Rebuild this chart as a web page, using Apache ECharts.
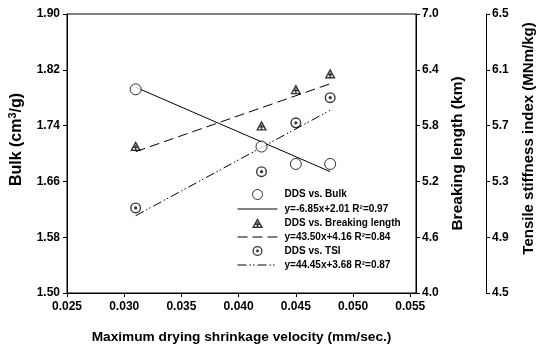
<!DOCTYPE html>
<html>
<head>
<meta charset="utf-8">
<script src="https://cdn.jsdelivr.net/npm/echarts@6/dist/echarts.min.js"></script>
<style>
  html, body { margin: 0; padding: 0; background: #fff; }
  #main { width: 536px; height: 350px; }
</style>
</head>
<body>
<div id="main"></div>
<script>
// measured points
var xVals = [0.031, 0.042, 0.045, 0.048];
var bulk = [1.792, 1.710, 1.685, 1.685];
var breaking = [5.58, 5.80, 6.19, 6.36];
var tsi = [5.11, 5.37, 5.72, 5.90];

// regression line end points
var fitX = [0.031, 0.048];
var bulkFit = [1.795, 1.674];
var breakFit = [5.52, 6.25];
var tsiFit = [5.054, 5.81];

var xTicks = [0.025, 0.030, 0.035, 0.040, 0.045, 0.050, 0.055];
var names = ['DDS vs. Bulk', 'y=-6.85x+2.01 R\u00b2=0.97',
  'DDS vs. Breaking length', 'y=43.50x+4.16 R\u00b2=0.84',
  'DDS vs. TSI', 'y=44.45x+3.68 R\u00b2=0.87'];

function pairs(xs, ys) {
  return xs.map(function (x, i) { return [x, ys[i]]; });
}

// triangle outline with a cross inside
var triPath = 'path://M5,0 L10,9 L0,9 Z M5,2.6 L2.1,7.7 L7.9,7.7 Z M4.35,3.8 L5.65,3.8 L5.65,7.7 L4.35,7.7 Z M3.1,5.0 L6.9,5.0 L6.9,6.3 L3.1,6.3 Z';
// ring with a dot in the middle
var dotPath = 'path://M0,-5.5 A5.5,5.5 0 1,1 0,5.5 A5.5,5.5 0 1,1 0,-5.5 Z M0,-4.1 A4.1,4.1 0 1,0 0,4.1 A4.1,4.1 0 1,0 0,-4.1 Z M0,-1.6 A1.6,1.6 0 1,1 0,1.6 A1.6,1.6 0 1,1 0,-1.6 Z';

var font = 'Liberation Sans';
var chart = echarts.init(document.getElementById('main'));

function nameStyle(size, extra) {
  return Object.assign({ fontFamily: font, fontWeight: 'bold', fontSize: size, color: '#000' }, extra || {});
}
var tickStyle = { fontFamily: font, fontWeight: 'bold', fontSize: 12, color: '#000' };
var thinLine = { width: 1 };

var option = {
  animation: false,
  textStyle: { fontFamily: font },
  grid: {
    left: 67, right: 120, top: 14, bottom: 57,
    outerBoundsMode: 'none',
    show: true, borderColor: '#000', borderWidth: 1
  },
  legend: {
    orient: 'vertical',
    left: 232, top: 184,
    itemWidth: 40, itemHeight: 10, itemGap: 4,
    textStyle: { fontFamily: font, fontWeight: 'bold', fontSize: 10, color: '#000', padding: [0, 0, 0, 2] },
    data: [
      { name: names[0], itemStyle: { borderWidth: 1 } },
      { name: names[1], itemStyle: { opacity: 0 }, lineStyle: thinLine },
      { name: names[2] },
      { name: names[3], itemStyle: { opacity: 0 }, lineStyle: thinLine },
      { name: names[4] },
      { name: names[5], itemStyle: { opacity: 0 }, lineStyle: thinLine }
    ]
  },
  xAxis: {
    type: 'value',
    min: 0.025, max: 0.0555,
    name: 'Maximum drying shrinkage velocity (mm/sec.)',
    nameLocation: 'middle', nameGap: 37, nameTextStyle: nameStyle(13.7),
    axisLine: { lineStyle: { color: '#000' } },
    axisTick: { lineStyle: { color: '#000' }, length: 4, customValues: xTicks },
    splitLine: { show: false },
    axisLabel: Object.assign({
      margin: 8, customValues: xTicks,
      formatter: function (v) { return v.toFixed(3); }
    }, tickStyle)
  },
  yAxis: [{
    type: 'value', position: 'left',
    min: 1.50, max: 1.90, interval: 0.08,
    name: 'Bulk (cm{sup|3}/g)', nameLocation: 'middle', nameGap: 41, nameRotate: 90,
    nameTextStyle: nameStyle(16, {
      padding: [0, 0, 0, 28],
      rich: { sup: { fontFamily: font, fontWeight: 'bold', fontSize: 11, color: '#000', padding: [0, 0, 8, 0] } }
    }),
    axisLine: { show: true, lineStyle: { color: '#000' } },
    axisTick: { show: true, lineStyle: { color: '#000' }, length: 4 },
    splitLine: { show: false },
    axisLabel: Object.assign({
      margin: 7,
      formatter: function (v) { return v.toFixed(2); }
    }, tickStyle)
  }, {
    type: 'value', position: 'right',
    min: 4.0, max: 7.0, interval: 0.6,
    name: 'Breaking length (km)', nameLocation: 'middle', nameGap: 34, nameRotate: 90,
    nameTextStyle: nameStyle(15.5),
    axisLine: { show: true, lineStyle: { color: '#000' } },
    axisTick: { show: true, lineStyle: { color: '#000' }, length: 4 },
    splitLine: { show: false },
    axisLabel: Object.assign({
      margin: 6,
      formatter: function (v) { return v.toFixed(1); }
    }, tickStyle)
  }, {
    type: 'value', position: 'right', offset: 70,
    min: 4.5, max: 6.5, interval: 0.4,
    name: 'Tensile stiffness index (MNm/kg)', nameLocation: 'middle', nameGap: 35, nameRotate: 90,
    nameTextStyle: nameStyle(15, { padding: [0, 0, 0, 30] }),
    axisLine: { show: true, lineStyle: { color: '#000' } },
    axisTick: { show: true, lineStyle: { color: '#000' }, length: 4 },
    splitLine: { show: false },
    axisLabel: Object.assign({
      margin: 6,
      formatter: function (v) { return v.toFixed(1); }
    }, tickStyle)
  }],
  series: [{
    name: names[0], type: 'scatter', yAxisIndex: 0,
    symbol: 'circle', symbolSize: 11,
    itemStyle: { color: '#fff', borderColor: '#000', borderWidth: 1 },
    data: pairs(xVals, bulk), z: 5
  }, {
    name: names[1], type: 'line', yAxisIndex: 0, symbol: 'none',
    lineStyle: { color: '#000', width: 1, type: 'solid' },
    itemStyle: { color: '#000' },
    data: pairs(fitX, bulkFit)
  }, {
    name: names[2], type: 'scatter', yAxisIndex: 1,
    symbol: triPath, symbolSize: [11, 10],
    itemStyle: { color: '#000' },
    data: pairs(xVals, breaking), z: 5
  }, {
    name: names[3], type: 'line', yAxisIndex: 1, symbol: 'none',
    lineStyle: { color: '#000', width: 1, type: [10, 5] },
    itemStyle: { color: '#000' },
    data: pairs(fitX, breakFit)
  }, {
    name: names[4], type: 'scatter', yAxisIndex: 2,
    symbol: dotPath, symbolSize: 11,
    itemStyle: { color: '#000' },
    data: pairs(xVals, tsi), z: 5
  }, {
    name: names[5], type: 'line', yAxisIndex: 2, symbol: 'none',
    lineStyle: { color: '#000', width: 1, type: [9, 3, 1.5, 2, 1.5, 3] },
    itemStyle: { color: '#000' },
    data: pairs(fitX, tsiFit)
  }]
};

chart.setOption(option);
</script>
</body>
</html>
